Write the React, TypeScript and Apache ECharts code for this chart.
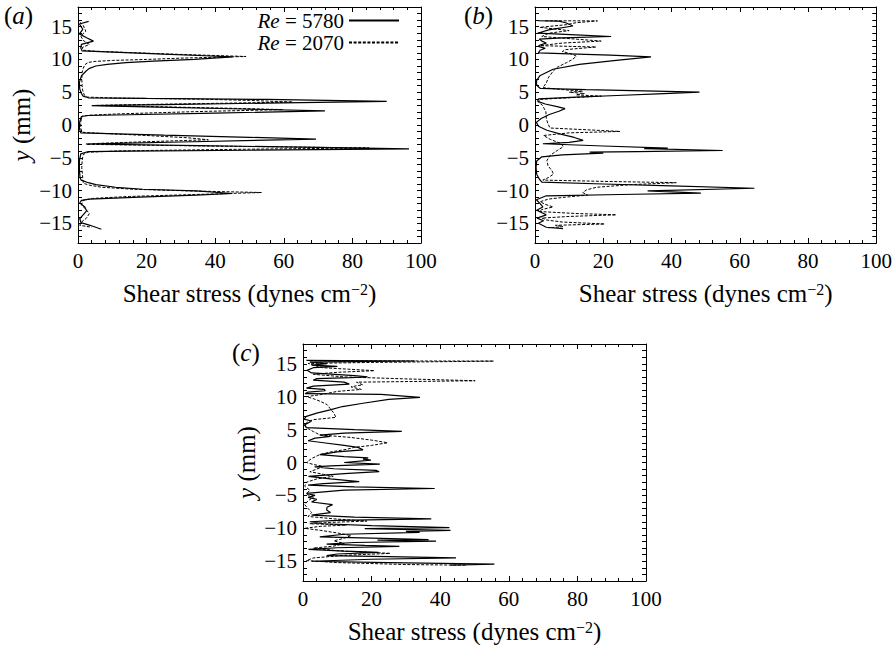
import React, { useEffect, useRef } from "react";
import * as echarts from "echarts";

const FONT = "Liberation Serif";

// Shear-stress profiles: each row is [y (mm), shear stress (dynes cm^-2)]
const panelA_Re5780 = [
  [15.8, 3.1], [15.4, 0.4], [14.6, 1.4], [13.9, 0.4], [13.3, 2.5], [12.8, 4.5], [12.3, 1.0], [11.8, 0.8],
  [11.3, 1.2], [11.07, 12], [10.8, 25], [10.56, 37], [10.4, 45], [10.0, 34], [9.75, 22], [9.5, 14],
  [9.25, 8.5], [9.0, 5.2], [8.6, 3.2], [8.2, 2.3], [7.5, 1.0], [6.5, 0.4], [5.5, 0.5], [4.8, 1.0],
  [4.4, 1.5], [4.15, 3.0], [4.05, 20], [3.9, 55], [3.6, 90], [3.34, 55], [3.12, 25], [2.96, 4.0],
  [2.77, 20], [2.44, 48], [2.15, 72], [1.82, 40], [1.56, 15], [1.45, 3.0], [1.3, 1.0], [0.5, 0.5],
  [-0.5, 0.4], [-1.2, 0.8], [-1.54, 25], [-1.88, 50], [-2.15, 69.4], [-2.59, 30], [-2.84, 8], [-2.9, 2.3],
  [-3.15, 35], [-3.42, 70], [-3.63, 96.5], [-3.85, 50], [-3.97, 15], [-4.05, 3], [-4.4, 0.8], [-5.5, 0.4],
  [-6.5, 0.4], [-7.5, 0.5], [-8.0, 0.6], [-8.4, 0.9], [-8.8, 3.0], [-9.1, 5.2], [-9.5, 11], [-9.8, 18.9],
  [-10.06, 34.4], [-10.45, 45], [-10.7, 34.4], [-11.0, 18], [-11.3, 3.3], [-11.5, 1.0], [-11.9, 0.5],
  [-12.5, 2.0], [-13.1, 2.5], [-13.7, 1.5], [-14.3, 0.5], [-14.9, 0.9], [-15.3, 3.5], [-15.9, 6.8],
];

const panelA_Re2070 = [
  [15.7, 0.5], [15.2, 1.5], [14.3, 2.3], [13.6, 0.8], [12.9, 1.5], [12.3, 3.3], [11.8, 1.2], [11.4, 1.5],
  [11.25, 5], [11.05, 15], [10.8, 28], [10.6, 40], [10.45, 49], [10.2, 30], [10.0, 20], [9.85, 10],
  [9.7, 5], [9.55, 3], [9.2, 2], [8.6, 1.5], [8.0, 1.2], [7.0, 1.1], [6.0, 1.2], [5.2, 1.4], [4.6, 1.8],
  [4.25, 2.8], [4.1, 12], [3.95, 35], [3.75, 50], [3.5, 62.6], [3.3, 40], [3.1, 15], [2.98, 5], [2.8, 22],
  [2.55, 45], [2.35, 59.7], [2.05, 35], [1.7, 12], [1.5, 3.5], [1.35, 1.2], [0.5, 0.8], [-0.5, 0.8],
  [-1.1, 1.2], [-1.23, 5], [-1.6, 20], [-1.95, 32], [-2.25, 38], [-2.55, 20], [-2.8, 6], [-2.95, 2.5],
  [-3.15, 30], [-3.35, 60], [-3.5, 84.8], [-3.75, 40], [-3.95, 12], [-4.15, 3], [-4.5, 1.5], [-5.5, 1.2],
  [-6.5, 1.1], [-7.5, 1.3], [-8.3, 1.4], [-8.9, 1.6], [-9.2, 3.5], [-9.5, 7], [-9.8, 16], [-10.05, 32],
  [-10.3, 53.5], [-10.6, 34.4], [-10.9, 15], [-11.2, 4.3], [-11.5, 1.5], [-12.2, 1.0], [-12.8, 2.2],
  [-13.5, 3.3], [-14.2, 2.5], [-14.8, 1.0], [-15.3, 0.5], [-15.6, 4.0],
];

const panelB_Re5780 = [
  [15.9, 0.9], [15.85, 7], [15.6, 9], [15.1, 11.1], [14.5, 4], [14.0, 0.8], [13.75, 12], [13.5, 22.3],
  [13.3, 8], [13.1, 1.2], [12.8, 2.0], [12.5, 3.3], [12.2, 1.5], [12.0, 1.0], [11.7, 3.0], [11.4, 1.5],
  [11.0, 1.0], [10.85, 10], [10.65, 22], [10.4, 34], [9.85, 23.8], [9.24, 13], [8.5, 5.3], [7.5, 1.4],
  [6.8, 0.5], [6.3, 0.4], [5.9, 0.8], [5.6, 1.5], [5.4, 15], [5.2, 32], [5.0, 48.2], [4.75, 36],
  [4.5, 24], [4.25, 12], [4.0, 1.0], [3.6, 0.8], [3.2, 3], [2.8, 6.5], [2.5, 8.8], [2.1, 7], [1.6, 4.2],
  [1.0, 1.8], [0.4, 0.4], [-0.2, 1.0], [-0.8, 3.5], [-1.4, 7.5], [-1.9, 11.5], [-2.35, 14.1], [-2.65, 10],
  [-2.86, 2.3], [-3.2, 20], [-3.52, 38.9], [-3.6, 32], [-3.89, 55], [-4.05, 30], [-4.15, 16], [-4.3, 20],
  [-4.55, 8], [-4.85, 2], [-5.5, 0.5], [-6.5, 0.3], [-7.5, 0.5], [-8.2, 1.2], [-8.7, 2], [-9.0, 20],
  [-9.3, 40], [-9.65, 64.3], [-10.06, 33], [-10.4, 48.6], [-10.6, 25], [-10.8, 3.3], [-11.4, 0.4],
  [-12.0, 1.5], [-12.5, 2.3], [-13.0, 0.5], [-13.7, 3.3], [-14.2, 0.6], [-14.6, 2.5], [-15.0, 1.0],
  [-15.6, 3.3], [-15.8, 8.2],
];

const panelB_Re2070 = [
  [15.9, 3.0], [15.88, 18.3], [15.6, 12], [15.3, 9.2], [14.9, 1.4], [14.4, 10], [14.0, 4], [13.5, 2],
  [13.1, 12], [12.8, 19.4], [12.5, 8], [12.1, 1.5], [11.9, 17.9], [11.5, 9], [11.2, 8], [10.8, 11],
  [10.5, 12.1], [10.0, 11], [9.5, 9.2], [8.8, 6.5], [8.2, 5.3], [7.3, 4], [6.4, 3.3], [5.7, 2.3],
  [5.4, 8], [5.15, 14], [5.0, 10], [4.8, 14.5], [4.6, 12], [4.4, 19.4], [4.1, 8], [3.9, 1.4], [3.5, 1.0],
  [3.0, 2.2], [2.0, 3.2], [1.0, 3.3], [0.2, 3.8], [-0.46, 4.4], [-0.7, 14], [-0.98, 24.9], [-1.2, 10],
  [-1.6, 2.5], [-2.2, 4.5], [-2.8, 7.5], [-3.3, 8.3], [-3.9, 6.5], [-4.6, 4.5], [-5.4, 3.5], [-6.2, 3.8],
  [-7.0, 5], [-7.5, 5.4], [-8.0, 4], [-8.4, 2.3], [-8.6, 20], [-8.8, 41.4], [-9.1, 28], [-9.5, 18],
  [-9.9, 15.1], [-10.3, 14], [-10.7, 15.4], [-11.0, 9], [-11.3, 4], [-11.7, 1.5], [-12.1, 3],
  [-12.5, 5.3], [-12.9, 2], [-13.2, 1.2], [-13.5, 12], [-13.7, 23.8], [-13.95, 10], [-14.2, 2],
  [-14.5, 3.5], [-14.8, 8], [-15.1, 20.4], [-15.3, 6], [-15.5, 8.2], [-15.7, 4],
];

const panelC_Re5780 = [
  [15.5, 1.0], [15.42, 32.7], [15.25, 2.0], [15.0, 7], [14.8, 2.5], [14.6, 10], [14.4, 3], [14.0, 1.2],
  [13.6, 2.5], [13.2, 15], [13.0, 18.8], [12.9, 14], [12.75, 4], [12.5, 3], [12.2, 12], [11.9, 13.5],
  [11.6, 3], [11.3, 1.0], [11.1, 6.2], [10.9, 6.5], [10.7, 1.5], [10.45, 0.6], [10.35, 22.7], [9.9, 34.1],
  [9.6, 25], [9.0, 17.5], [8.5, 11.5], [8.0, 7.9], [7.5, 4.0], [7.0, 1.0], [6.6, 0.3], [6.3, 2.5],
  [6.0, 1.5], [5.7, 0.4], [5.3, 1.0], [5.0, 15], [4.73, 28.8], [4.45, 12], [4.15, 4.9], [3.95, 8],
  [3.7, 3.5], [3.3, 1.5], [3.0, 6], [2.6, 12], [2.3, 16], [1.93, 17.5], [1.6, 10], [1.2, 4.9], [0.9, 12],
  [0.7, 19], [0.5, 17.5], [0.35, 19.8], [0.0, 12], [-0.25, 22.4], [-0.5, 8], [-0.65, 3.4], [-0.95, 9],
  [-1.2, 21.3], [-1.4, 22.2], [-1.7, 12], [-2.1, 1.6], [-2.5, 8], [-2.9, 16.4], [-3.2, 6], [-3.45, 1.5],
  [-3.7, 15], [-3.95, 38.4], [-4.2, 12], [-4.7, 1.0], [-5.0, 3.5], [-5.3, 1.5], [-5.6, 4], [-6.0, 2.5],
  [-6.4, 8.6], [-6.8, 7], [-7.2, 6.9], [-7.6, 8], [-8.0, 2.5], [-8.3, 15], [-8.55, 37.4], [-8.8, 10],
  [-9.0, 2], [-9.3, 6], [-9.6, 20], [-9.9, 42.7], [-10.05, 18], [-10.3, 43], [-10.45, 30], [-10.6, 34],
  [-10.9, 12], [-11.3, 4.9], [-11.5, 20], [-11.7, 36.6], [-11.8, 21.7], [-11.95, 38.8], [-12.15, 15],
  [-12.4, 6.9], [-12.6, 18], [-12.75, 28.1], [-12.95, 10], [-13.2, 1.6], [-13.45, 12], [-13.65, 22],
  [-13.9, 10], [-14.15, 6.9], [-14.3, 25], [-14.5, 44.6], [-14.7, 20], [-15.0, 2.5], [-15.2, 25],
  [-15.45, 55.8], [-15.6, 43],
];

const panelC_Re2070 = [
  [15.45, 2], [15.4, 55.6], [15.2, 20], [15.05, 1.5], [14.8, 3], [14.4, 5.7], [13.95, 20.8], [13.7, 10],
  [13.4, 3], [13.0, 12], [12.7, 30], [12.42, 50.2], [12.2, 15.6], [11.8, 17.4], [11.5, 14], [11.1, 17],
  [10.8, 10], [10.3, 5], [10.0, 1], [9.7, 3], [9.3, 5], [8.8, 7], [8.2, 7.9], [7.5, 9], [6.85, 9.6],
  [6.5, 2.9], [6.2, 1.5], [5.8, 0.5], [5.3, 1.0], [4.7, 3], [4.2, 4.9], [3.8, 14], [3.4, 20], [3.0, 24.7],
  [2.6, 20], [2.3, 15], [2.0, 12.7], [1.6, 8], [1.2, 4.9], [0.6, 2.5], [0.0, 1.0], [-0.3, 3], [-0.6, 6],
  [-1.0, 4], [-1.4, 2], [-1.8, 6], [-2.1, 8.8], [-2.5, 4], [-3.0, 1.0], [-3.6, 0.5], [-4.2, 2],
  [-4.8, 1.0], [-5.3, 3], [-5.8, 1.5], [-6.4, 0.5], [-7.0, 1.5], [-7.6, 2.5], [-8.2, 1.5], [-8.6, 10],
  [-8.9, 18.6], [-9.1, 8], [-9.3, 2], [-9.5, 12.7], [-9.7, 5], [-10.0, 0.5], [-10.3, 5], [-10.7, 10],
  [-11.1, 14], [-11.5, 12], [-11.9, 9], [-12.3, 12], [-12.7, 9], [-13.0, 3], [-13.4, 10], [-13.8, 25.4],
  [-14.1, 12], [-14.5, 3], [-14.9, 1.0], [-15.2, 10], [-15.5, 30], [-15.6, 47.8],
];

const RE_HIGH = "Re = 5780";
const RE_LOW = "Re = 2070";
const panelLetters = ["a", "b", "c"];
const stressRange = [0, 100];
const yRange = [-18, 18];

const grids = [
  { left: 78, top: 7, width: 343, height: 236 },
  { left: 535, top: 7, width: 342, height: 236 },
  { left: 303, top: 344, width: 343, height: 237 },
];

const panels = [
  { high: panelA_Re5780, low: panelA_Re2070, yName: true },
  { high: panelB_Re5780, low: panelB_Re2070, yName: false },
  { high: panelC_Re5780, low: panelC_Re2070, yName: true },
];

const BLACK = "#000";
const tickFont = { fontFamily: FONT, fontSize: 21, color: BLACK };

function buildOption() {
  const xAxis: any[] = [];
  const yAxis: any[] = [];
  const series: any[] = [];

  panels.forEach((p, i) => {
    const common = {
      gridIndex: i,
      type: "value",
      axisLine: { show: true, onZero: false, lineStyle: { color: BLACK, width: 1 } },
      splitLine: { show: false },
    };
    xAxis.push({
      ...common,
      position: "bottom",
      min: stressRange[0],
      max: stressRange[1],
      interval: 20,
      axisTick: { show: true, inside: true, length: 5, lineStyle: { color: BLACK } },
      minorTick: { show: true, splitNumber: 5, length: 3, lineStyle: { color: BLACK } },
      axisLabel: { ...tickFont, margin: 7 },
      name: "Shear stress (dynes cm{sup|\u22122})",
      nameLocation: "middle",
      nameGap: 38,
      nameTextStyle: {
        fontFamily: FONT,
        fontSize: 25,
        color: BLACK,
        rich: { sup: { fontFamily: FONT, fontSize: 16, color: BLACK, verticalAlign: "top", lineHeight: 14 } },
      },
    });
    xAxis.push({
      ...common,
      position: "top",
      min: stressRange[0],
      max: stressRange[1],
      interval: 20,
      axisTick: { show: true, inside: true, length: 5, lineStyle: { color: BLACK } },
      minorTick: { show: true, splitNumber: 5, length: 3, lineStyle: { color: BLACK } },
      axisLabel: { show: false },
    });
    yAxis.push({
      ...common,
      position: "left",
      min: yRange[0],
      max: yRange[1],
      interval: 1,
      axisTick: { show: true, inside: true, length: 4, lineStyle: { color: BLACK } },
      axisLabel: {
        ...tickFont,
        margin: 6,
        formatter: (v: number) => (v % 5 === 0 ? (v < 0 ? "\u2212" + -v : String(v)) : ""),
      },
      name: p.yName ? "{i|y} (mm)" : "",
      nameLocation: "middle",
      nameGap: 44,
      nameTextStyle: {
        fontFamily: FONT,
        fontSize: 25,
        color: BLACK,
        rich: { i: { fontFamily: FONT, fontSize: 25, fontStyle: "italic", color: BLACK } },
      },
    });
    yAxis.push({
      ...common,
      position: "right",
      min: yRange[0],
      max: yRange[1],
      interval: 1,
      axisTick: { show: true, inside: true, length: 4, lineStyle: { color: BLACK } },
      axisLabel: { show: false },
    });

    const mk = (name: string, rows: number[][], dashed: boolean) => ({
      name,
      type: "line",
      xAxisIndex: 2 * i,
      yAxisIndex: 2 * i,
      data: rows.map(([y, s]) => [s, y]),
      symbol: "none",
      showSymbol: false,
      silent: true,
      clip: true,
      lineStyle: dashed
        ? { color: BLACK, width: 1, type: [3, 1.6] }
        : { color: BLACK, width: 1.2, type: "solid" },
    });
    series.push(mk(RE_HIGH, p.high, false));
    series.push(mk(RE_LOW, p.low, true));
  });

  const letterLabels = panelLetters.map((letter, i) => ({
    type: "text",
    left: [4, 464, 232][i],
    top: [3, 3, 340][i],
    style: {
      text: `({i|${letter}})`,
      fontFamily: FONT,
      fontSize: 25,
      fill: BLACK,
      rich: { i: { fontStyle: "italic", fontSize: 25, fontFamily: FONT, fill: BLACK } },
    },
  }));

  return {
    animation: false,
    backgroundColor: "#fff",
    textStyle: { fontFamily: FONT },
    grid: grids.map((g) => ({ ...g, containLabel: false })),
    xAxis,
    yAxis,
    series,
    legend: {
      data: [RE_HIGH, RE_LOW],
      orient: "vertical",
      align: "right",
      right: 495,
      top: 10,
      padding: 0,
      itemWidth: 50,
      itemHeight: 10,
      itemGap: 1,
      selectedMode: false,
      itemStyle: { opacity: 0 },
      formatter: (n: string) => n.replace("Re", "{i|Re}"),
      textStyle: {
        fontFamily: FONT,
        fontSize: 21,
        lineHeight: 20,
        color: BLACK,
        rich: { i: { fontFamily: FONT, fontSize: 21, lineHeight: 20, fontStyle: "italic", color: BLACK } },
      },
    },
    graphic: letterLabels,
  };
}

export default function App() {
  const ref = useRef<HTMLDivElement>(null);
  useEffect(() => {
    if (!ref.current) return;
    const chart = echarts.init(ref.current, undefined, { renderer: "svg" });
    chart.setOption(buildOption() as any);
    return () => chart.dispose();
  }, []);
  return (
    <div
      ref={ref}
      style={{ position: "absolute", left: 0, top: 0, width: 895, height: 645, background: "#fff" }}
    />
  );
}
